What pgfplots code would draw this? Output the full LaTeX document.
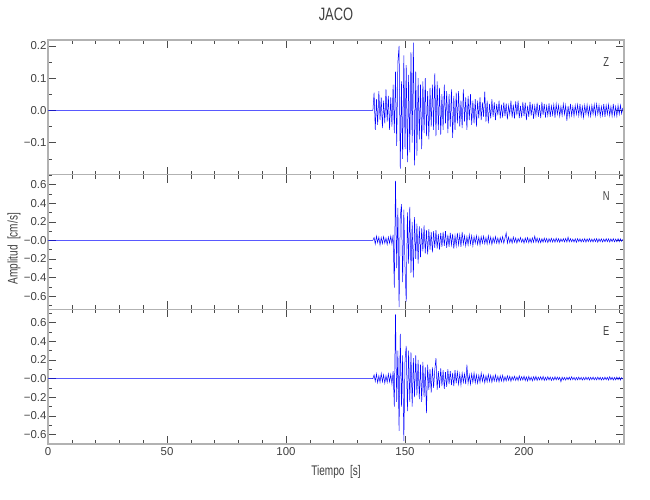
\documentclass[border=0pt]{standalone}
\usepackage{pgfplots}
\pgfplotsset{compat=1.18}
\usepackage{pgfplotstable}
\usepackage{fontspec}
\setmainfont{Liberation Sans}
\newfontfamily\narrowfont[FakeStretch=0.72]{Liberation Sans}

\pgfplotstableread[row sep=\\]{
t a\\
0 0\\ 136.5 0\\
137.0 0.055\\ 137.5 -0.060\\ 138.0 0.035\\ 138.5 -0.045\\ 139.0 0.060\\ 139.5 -0.030\\
140.0 0.040\\ 140.5 -0.055\\ 141.0 0.030\\ 141.5 -0.040\\ 142.0 0.065\\ 142.5 -0.035\\
143.0 0.045\\ 143.5 -0.060\\ 144.0 0.040\\ 144.5 -0.050\\ 145.0 0.080\\ 145.5 -0.070\\
146.0 0.120\\ 146.5 -0.110\\ 147.0 0.150\\ 147.5 0.200\\ 148.0 -0.180\\ 148.5 0.090\\
149.0 -0.150\\ 149.5 0.170\\ 150.0 -0.120\\ 150.5 0.140\\ 151.0 -0.160\\ 151.5 0.110\\
152.0 -0.130\\ 152.5 0.180\\ 153.0 -0.100\\ 153.5 0.210\\ 154.0 -0.170\\ 154.5 0.120\\
155.0 -0.140\\ 155.5 0.100\\ 156.0 -0.090\\ 156.5 0.080\\ 157.0 -0.120\\ 157.5 0.090\\
158.0 -0.070\\ 158.5 0.100\\ 159.0 -0.080\\ 159.5 0.060\\ 160.0 -0.090\\ 160.5 0.070\\
161.0 -0.050\\ 161.5 0.080\\ 162.0 -0.060\\ 162.5 0.115\\ 163.0 -0.080\\ 163.5 0.090\\
164.0 -0.060\\ 164.5 0.070\\ 165.0 -0.075\\ 165.5 0.050\\ 166.0 -0.060\\ 166.5 0.080\\
167.0 -0.040\\ 167.5 0.060\\ 168.0 -0.070\\ 168.5 0.050\\ 169.0 -0.050\\ 169.5 0.065\\
170.0 -0.085\\ 170.5 0.045\\ 171.0 -0.060\\ 171.5 0.055\\ 172.0 -0.040\\ 172.5 0.060\\
173.0 -0.050\\ 173.5 0.030\\ 174.0 -0.055\\ 174.5 0.065\\ 175.0 -0.035\\ 175.5 0.040\\
176.0 -0.060\\ 176.5 0.045\\ 177.0 -0.030\\ 177.5 0.050\\ 178.0 -0.045\\ 178.5 0.030\\
179.0 -0.040\\ 179.5 0.035\\ 180.0 -0.050\\ 180.5 0.030\\ 181.0 -0.025\\ 181.5 0.040\\
182.0 -0.030\\ 182.5 0.025\\ 183.0 -0.020\\ 183.5 0.058\\ 184.0 -0.035\\ 184.5 0.030\\
185.0 -0.040\\ 185.5 0.020\\ 186.0 -0.025\\ 186.5 0.035\\ 187.0 -0.020\\ 187.5 0.025\\
188.0 -0.030\\ 188.5 0.020\\ 189.0 -0.015\\ 189.5 0.030\\ 190.0 -0.025\\ 190.5 0.018\\
191.0 -0.022\\ 191.5 0.025\\ 192.0 -0.018\\ 192.5 0.022\\ 193.0 -0.028\\ 193.5 0.015\\
194.0 -0.012\\ 194.5 0.030\\
195.0 -0.022\\ 195.5 0.018\\ 196.0 -0.025\\ 196.5 0.028\\ 197.0 -0.015\\ 197.5 0.030\\
198.0 -0.024\\ 198.5 0.014\\ 199.0 -0.022\\ 199.5 0.026\\ 200.0 -0.018\\ 200.5 0.024\\
201.0 -0.030\\ 201.5 0.015\\ 202.0 -0.020\\ 202.5 0.026\\ 203.0 -0.016\\ 203.5 0.020\\
204.0 -0.026\\ 204.5 0.014\\ 205.0 -0.016\\ 205.5 0.024\\ 206.0 -0.020\\ 206.5 0.016\\
207.0 -0.024\\ 207.5 0.026\\ 208.0 -0.014\\ 208.5 0.020\\ 209.0 -0.022\\ 209.5 0.014\\
210.0 -0.016\\ 210.5 0.022\\ 211.0 -0.020\\ 211.5 0.014\\ 212.0 -0.014\\ 212.5 0.018\\
213.0 -0.022\\ 213.5 0.020\\ 214.0 -0.012\\ 214.5 0.016\\ 215.0 -0.018\\ 215.5 0.012\\
216.0 -0.016\\ 216.5 0.020\\ 217.0 -0.012\\ 217.5 0.016\\ 218.0 -0.032\\ 218.5 0.014\\
219.0 -0.018\\ 219.5 0.020\\ 220.0 -0.016\\ 220.5 0.012\\ 221.0 -0.018\\ 221.5 0.016\\
222.0 -0.012\\ 222.5 0.018\\ 223.0 -0.016\\ 223.5 0.020\\ 224.0 -0.018\\ 224.5 0.012\\
225.0 -0.022\\ 225.5 0.016\\ 226.0 -0.012\\ 226.5 0.018\\ 227.0 -0.016\\ 227.5 0.012\\
228.0 -0.018\\ 228.5 0.016\\ 229.0 -0.012\\ 229.5 0.018\\ 230.0 -0.016\\ 230.5 0.020\\
231.0 -0.012\\ 231.5 0.016\\ 232.0 -0.018\\ 232.5 0.012\\ 233.0 -0.016\\ 233.5 0.020\\
234.0 -0.020\\ 234.5 0.016\\ 235.0 -0.012\\ 235.5 0.018\\ 236.0 -0.016\\ 236.5 0.012\\
237.0 -0.018\\ 237.5 0.020\\ 238.0 -0.016\\ 238.5 0.012\\ 239.0 -0.018\\ 239.5 0.016\\
240.0 -0.012\\ 240.5 0.016\\ 241.0 -0.010\\ 241.5 0.008\\
}\Ztab

\pgfplotstableread[row sep=\\]{
t a\\
0 0\\ 136.5 0\\
137.0 0.030\\ 137.5 -0.040\\ 138.0 0.045\\ 138.5 -0.025\\ 139.0 0.035\\ 139.5 -0.050\\
140.0 0.030\\ 140.5 -0.035\\ 141.0 0.040\\ 141.5 -0.030\\ 142.0 0.025\\ 142.5 -0.045\\
143.0 0.035\\ 143.5 -0.030\\ 144.0 0.045\\ 144.5 -0.040\\ 145.0 0.060\\ 145.5 -0.510\\
146.0 0.640\\ 146.5 -0.300\\ 147.0 0.350\\ 147.5 -0.720\\ 148.0 0.250\\ 148.5 0.390\\
149.0 -0.450\\ 149.5 0.330\\ 150.0 -0.300\\ 150.5 -0.660\\ 151.0 0.300\\ 151.5 -0.250\\
152.0 0.360\\ 152.5 -0.350\\ 153.0 0.200\\ 153.5 -0.400\\ 154.0 0.250\\ 154.5 -0.200\\
155.0 0.180\\ 155.5 -0.250\\ 156.0 0.150\\ 156.5 -0.180\\ 157.0 0.130\\ 157.5 -0.120\\
158.0 0.160\\ 158.5 -0.140\\ 159.0 0.110\\ 159.5 -0.150\\ 160.0 0.120\\ 160.5 -0.100\\
161.0 0.090\\ 161.5 -0.130\\ 162.0 0.100\\ 162.5 -0.080\\ 163.0 0.110\\ 163.5 -0.090\\
164.0 0.070\\ 164.5 -0.100\\ 165.0 0.080\\ 165.5 -0.070\\ 166.0 0.090\\ 166.5 -0.060\\
167.0 0.100\\ 167.5 -0.080\\ 168.0 0.060\\ 168.5 -0.070\\ 169.0 0.080\\ 169.5 -0.050\\
170.0 0.070\\ 170.5 -0.090\\ 171.0 0.050\\ 171.5 -0.060\\ 172.0 0.080\\ 172.5 -0.050\\
173.0 0.060\\ 173.5 -0.070\\ 174.0 0.090\\ 174.5 -0.040\\ 175.0 0.050\\ 175.5 -0.060\\
176.0 0.040\\ 176.5 -0.050\\ 177.0 0.060\\ 177.5 -0.040\\ 178.0 0.050\\ 178.5 -0.060\\
179.0 0.040\\ 179.5 -0.030\\ 180.0 0.050\\ 180.5 -0.045\\ 181.0 0.035\\ 181.5 -0.050\\
182.0 0.040\\ 182.5 -0.030\\ 183.0 0.045\\ 183.5 -0.035\\ 184.0 0.030\\ 184.5 -0.040\\
185.0 0.050\\ 185.5 -0.030\\ 186.0 0.035\\ 186.5 -0.045\\ 187.0 0.030\\ 187.5 -0.025\\
188.0 0.040\\ 188.5 -0.030\\ 189.0 0.025\\ 189.5 -0.035\\ 190.0 0.030\\ 190.5 -0.020\\
191.0 0.040\\ 191.5 -0.030\\ 192.0 0.025\\ 192.5 0.080\\ 193.0 -0.030\\ 193.5 0.035\\
194.0 -0.025\\ 194.5 0.020\\ 195.0 -0.030\\ 195.5 0.035\\ 196.0 -0.020\\ 196.5 0.025\\
197.0 -0.030\\ 197.5 0.020\\ 198.0 -0.015\\ 198.5 0.030\\ 199.0 -0.020\\ 199.5 0.015\\
200.0 -0.030\\ 200.5 0.025\\ 201.0 -0.020\\ 201.5 0.030\\ 202.0 -0.025\\ 202.5 0.020\\
203.0 -0.024\\ 203.5 0.026\\ 204.0 -0.020\\ 204.5 0.045\\ 205.0 -0.020\\ 205.5 0.025\\
206.0 -0.024\\ 206.5 0.020\\ 207.0 -0.026\\ 207.5 0.018\\ 208.0 -0.020\\ 208.5 0.024\\
209.0 -0.018\\ 209.5 0.020\\ 210.0 -0.024\\ 210.5 0.018\\ 211.0 -0.016\\ 211.5 0.022\\
212.0 -0.018\\ 212.5 0.016\\ 213.0 -0.020\\ 213.5 0.024\\ 214.0 -0.016\\ 214.5 0.018\\
215.0 -0.020\\ 215.5 0.016\\ 216.0 -0.014\\ 216.5 0.018\\ 217.0 -0.016\\ 217.5 0.020\\
218.0 -0.018\\ 218.5 0.035\\ 219.0 -0.016\\ 219.5 0.018\\ 220.0 -0.016\\ 220.5 0.014\\
221.0 -0.018\\ 221.5 0.016\\ 222.0 -0.022\\ 222.5 0.018\\ 223.0 -0.014\\ 223.5 0.016\\
224.0 -0.018\\ 224.5 0.014\\ 225.0 -0.016\\ 225.5 0.018\\ 226.0 -0.020\\ 226.5 0.016\\
227.0 -0.014\\ 227.5 0.018\\ 228.0 -0.016\\ 228.5 0.014\\ 229.0 -0.018\\ 229.5 0.016\\
230.0 -0.014\\ 230.5 0.018\\ 231.0 -0.020\\ 231.5 0.016\\ 232.0 -0.014\\ 232.5 0.016\\
233.0 -0.018\\ 233.5 0.014\\ 234.0 -0.016\\ 234.5 0.018\\ 235.0 -0.014\\ 235.5 0.016\\
236.0 -0.018\\ 236.5 0.016\\ 237.0 -0.014\\ 237.5 0.018\\ 238.0 -0.016\\ 238.5 0.014\\
239.0 -0.016\\ 239.5 0.018\\ 240.0 -0.014\\ 240.5 0.016\\ 241.0 -0.010\\ 241.5 0.010\\
}\Ntab

\pgfplotstableread[row sep=\\]{
t a\\
0 0\\ 136.5 0\\
137.0 0.040\\ 137.5 -0.030\\ 138.0 0.050\\ 138.5 -0.045\\ 139.0 0.030\\ 139.5 -0.040\\
140.0 0.055\\ 140.5 -0.035\\ 141.0 0.040\\ 141.5 -0.050\\ 142.0 0.030\\ 142.5 -0.040\\
143.0 0.050\\ 143.5 -0.035\\ 144.0 0.045\\ 144.5 -0.060\\ 145.0 0.080\\ 145.5 -0.300\\
146.0 0.690\\ 146.5 -0.250\\ 147.0 0.300\\ 147.5 -0.560\\ 148.0 0.480\\ 148.5 -0.300\\
149.0 0.250\\ 149.5 -0.670\\ 150.0 0.200\\ 150.5 0.350\\ 151.0 -0.350\\ 151.5 0.300\\
152.0 -0.250\\ 152.5 0.280\\ 153.0 -0.300\\ 153.5 0.220\\ 154.0 -0.200\\ 154.5 0.250\\
155.0 -0.180\\ 155.5 0.200\\ 156.0 -0.220\\ 156.5 0.150\\ 157.0 -0.250\\ 157.5 0.180\\
158.0 -0.200\\ 158.5 0.120\\ 159.0 -0.370\\ 159.5 0.150\\ 160.0 -0.120\\ 160.5 0.100\\
161.0 -0.150\\ 161.5 0.120\\ 162.0 -0.100\\ 162.5 0.090\\ 163.0 0.220\\ 163.5 -0.120\\
164.0 0.080\\ 164.5 -0.100\\ 165.0 0.110\\ 165.5 -0.080\\ 166.0 0.090\\ 166.5 -0.110\\
167.0 0.070\\ 167.5 -0.090\\ 168.0 0.100\\ 168.5 -0.060\\ 169.0 0.080\\ 169.5 -0.070\\
170.0 0.060\\ 170.5 -0.080\\ 171.0 0.090\\ 171.5 -0.050\\ 172.0 0.070\\ 172.5 -0.060\\
173.0 0.050\\ 173.5 -0.070\\ 174.0 0.060\\ 174.5 -0.040\\ 175.0 0.050\\ 175.5 -0.060\\
176.0 0.150\\ 176.5 -0.050\\ 177.0 0.040\\ 177.5 -0.060\\ 178.0 0.050\\ 178.5 -0.040\\
179.0 0.060\\ 179.5 -0.045\\ 180.0 0.040\\ 180.5 -0.050\\ 181.0 0.035\\ 181.5 -0.040\\
182.0 0.060\\ 182.5 -0.030\\ 183.0 0.040\\ 183.5 -0.045\\ 184.0 0.030\\ 184.5 -0.035\\
185.0 0.045\\ 185.5 -0.030\\ 186.0 0.035\\ 186.5 -0.040\\ 187.0 0.030\\ 187.5 -0.025\\
188.0 0.040\\ 188.5 -0.030\\ 189.0 0.025\\ 189.5 -0.035\\ 190.0 0.030\\ 190.5 -0.025\\
191.0 0.035\\ 191.5 -0.030\\ 192.0 0.020\\ 192.5 -0.025\\ 193.0 0.030\\ 193.5 -0.020\\
194.0 0.025\\ 194.5 -0.030\\ 195.0 0.020\\ 195.5 -0.015\\ 196.0 0.025\\ 196.5 -0.020\\
197.0 0.018\\ 197.5 -0.022\\ 198.0 0.030\\ 198.5 -0.018\\ 199.0 0.020\\ 199.5 -0.015\\
200.0 0.026\\ 200.5 -0.022\\ 201.0 0.018\\ 201.5 -0.026\\ 202.0 0.024\\ 202.5 -0.018\\
203.0 0.016\\ 203.5 -0.024\\ 204.0 0.020\\ 204.5 -0.016\\ 205.0 0.024\\ 205.5 -0.020\\
206.0 0.016\\ 206.5 -0.014\\ 207.0 0.020\\ 207.5 -0.016\\ 208.0 0.024\\ 208.5 -0.020\\
209.0 0.014\\ 209.5 -0.016\\ 210.0 0.020\\ 210.5 -0.014\\ 211.0 0.016\\ 211.5 -0.020\\
212.0 0.014\\ 212.5 -0.016\\ 213.0 0.020\\ 213.5 -0.014\\ 214.0 0.016\\ 214.5 -0.012\\
215.0 0.014\\ 215.5 -0.034\\ 216.0 0.016\\ 216.5 -0.014\\ 217.0 0.012\\ 217.5 -0.016\\
218.0 0.014\\ 218.5 -0.012\\ 219.0 0.016\\ 219.5 -0.014\\ 220.0 0.020\\ 220.5 -0.012\\
221.0 0.014\\ 221.5 -0.016\\ 222.0 0.012\\ 222.5 -0.014\\ 223.0 0.016\\ 223.5 -0.012\\
224.0 0.014\\ 224.5 -0.016\\ 225.0 0.012\\ 225.5 -0.014\\ 226.0 0.016\\ 226.5 -0.012\\
227.0 0.014\\ 227.5 -0.016\\ 228.0 0.014\\ 228.5 -0.012\\ 229.0 0.016\\ 229.5 -0.014\\
230.0 0.012\\ 230.5 -0.014\\ 231.0 0.016\\ 231.5 -0.012\\ 232.0 0.014\\ 232.5 -0.016\\
233.0 0.012\\ 233.5 -0.014\\ 234.0 0.016\\ 234.5 -0.012\\ 235.0 0.014\\ 235.5 -0.016\\
236.0 0.020\\ 236.5 -0.012\\ 237.0 0.014\\ 237.5 -0.016\\ 238.0 0.012\\ 238.5 -0.014\\
239.0 0.016\\ 239.5 -0.012\\ 240.0 0.014\\ 240.5 -0.016\\ 241.0 0.010\\ 241.5 -0.006\\
}\Etab

\pgfplotsset{
  seis/.style={
    scale only axis, width=576bp, height=134.67bp,
    xmin=0, xmax=242,
    axis line style={black!30, line width=1.2pt},
    tick style={black!70, line width=0.5pt},
    major tick length=8bp, minor tick length=4bp, tick align=inside,
    xtick={0,50,100,150,200},
    minor xtick={10,20,30,40,60,70,80,90,110,120,130,140,160,170,180,190,210,220,230,240},
    ticklabel style={font=\fontsize{11.5}{13}\selectfont, text=black!75},
    yticklabel style={xshift=2bp},
    no markers,
  },
}
\tikzset{panellab/.style={font=\narrowfont\fontsize{13}{15}\selectfont, text=black!75}}

\begin{document}
\begin{tikzpicture}
\useasboundingbox (-48bp,40bp) rectangle (602bp,-460bp);
% Z
\begin{axis}[seis, at={(0,0)}, anchor=north west,
  ymin=-0.199, ymax=0.218,
  ytick={-0.1,0,0.1,0.2}, yticklabels={−0.1,0.0,0.1,0.2},
  minor ytick={-0.15,-0.05,0.05,0.15},
  xticklabels={},
  title={JACO},
  title style={at={(axis description cs:0.5,1)}, anchor=center, yshift=20bp,
    font=\narrowfont\fontsize{18}{20}\selectfont, text=black!75}]
\addplot[blue, line width=0.5pt, mark=none] table[x=t, y=a] {\Ztab};
\node[panellab] at (rel axis cs:0.969,0.84) {Z};
\end{axis}
% N
\begin{axis}[seis, at={(0,-134.67bp)}, anchor=north west,
  ymin=-0.743, ymax=0.707,
  ytick={-0.6,-0.4,-0.2,0,0.2,0.4,0.6},
  yticklabels={−0.6,−0.4,−0.2,−0.0,0.2,0.4,0.6},
  minor ytick={-0.7,-0.5,-0.3,-0.1,0.1,0.3,0.5,0.7},
  xticklabels={},
  ylabel={Amplitud\ \ [cm/s]},
  ylabel style={at={(axis description cs:-0.059,0.45)}, anchor=center,
    font=\narrowfont\fontsize{14}{16}\selectfont, text=black!75}]
\addplot[blue, line width=0.5pt, mark=none] table[x=t, y=a] {\Ntab};
\node[panellab] at (rel axis cs:0.969,0.84) {N};
\end{axis}
% E
\begin{axis}[seis, at={(0,-269.33bp)}, anchor=north west,
  ymin=-0.702, ymax=0.743,
  ytick={-0.6,-0.4,-0.2,0,0.2,0.4,0.6},
  yticklabels={−0.6,−0.4,−0.2,−0.0,0.2,0.4,0.6},
  minor ytick={-0.7,-0.5,-0.3,-0.1,0.1,0.3,0.5,0.7},
  xticklabels={0,50,100,150,200},
  xlabel={Tiempo\ \ [s]},
  xlabel style={at={(axis description cs:0.5,0)}, anchor=center, yshift=-28bp,
    font=\narrowfont\fontsize{14}{16}\selectfont, text=black!75}]
\addplot[blue, line width=0.5pt, mark=none] table[x=t, y=a] {\Etab};
\node[panellab] at (rel axis cs:0.969,0.84) {E};
\end{axis}
\end{tikzpicture}
\end{document}
